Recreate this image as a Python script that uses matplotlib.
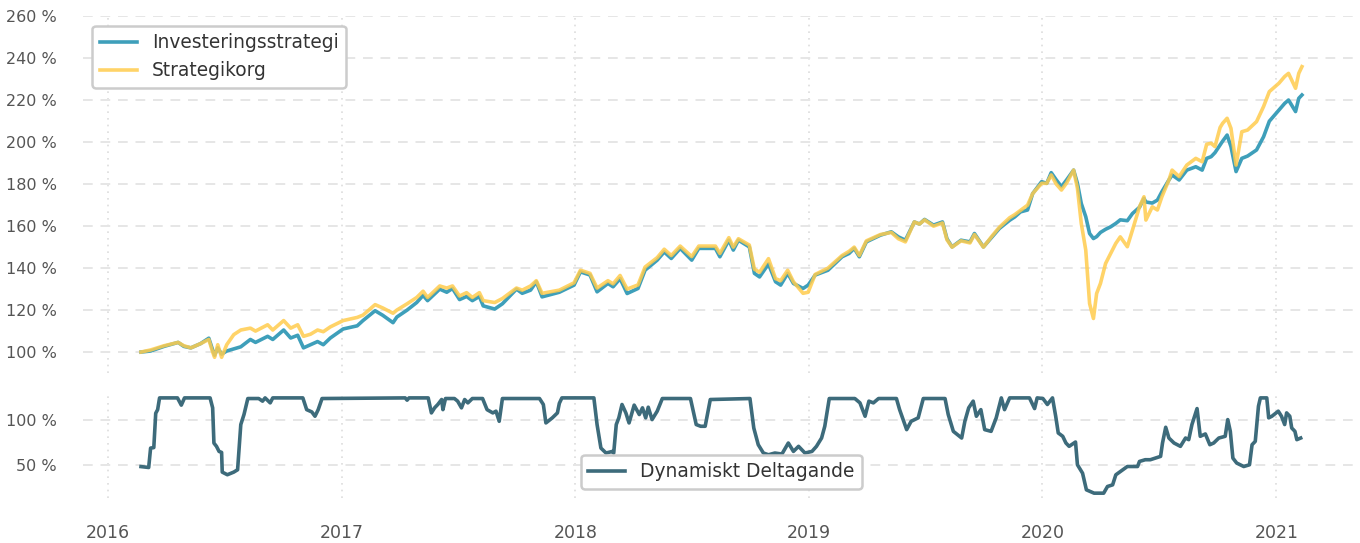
import matplotlib
matplotlib.use('Agg')
import matplotlib.pyplot as plt
import matplotlib.dates as mdates
from matplotlib.ticker import FuncFormatter, MultipleLocator
import pandas as pd

# top panel: index development in percent
top_dates = ['2016-02-22', '2016-03-08', '2016-03-29', '2016-04-20', '2016-04-29', '2016-05-10',
             '2016-05-25', '2016-06-07', '2016-06-13', '2016-06-16', '2016-06-21', '2016-06-27',
             '2016-07-05', '2016-07-16', '2016-07-27', '2016-08-11', '2016-08-19', '2016-09-07',
             '2016-09-15', '2016-10-02', '2016-10-13', '2016-10-24', '2016-11-02', '2016-11-13',
             '2016-11-24', '2016-12-03', '2016-12-14', '2017-01-03', '2017-01-25', '2017-02-03',
             '2017-02-22', '2017-03-06', '2017-03-22', '2017-03-28', '2017-04-13', '2017-04-28',
             '2017-05-08', '2017-05-15', '2017-06-03', '2017-06-14', '2017-06-23', '2017-07-04',
             '2017-07-15', '2017-07-24', '2017-08-04', '2017-08-10', '2017-08-28', '2017-09-09',
             '2017-10-01', '2017-10-10', '2017-10-23', '2017-11-01', '2017-11-10', '2017-12-07',
             '2017-12-30', '2018-01-09', '2018-01-24', '2018-02-04', '2018-02-21', '2018-03-01',
             '2018-03-12', '2018-03-23', '2018-04-09', '2018-04-20', '2018-05-09', '2018-05-20',
             '2018-05-31', '2018-06-14', '2018-07-02', '2018-07-13', '2018-08-08', '2018-08-15',
             '2018-08-29', '2018-09-05', '2018-09-13', '2018-09-30', '2018-10-08', '2018-10-16',
             '2018-10-30', '2018-11-10', '2018-11-18', '2018-11-29', '2018-12-08', '2018-12-23',
             '2018-12-31', '2019-01-11', '2019-01-31', '2019-02-22', '2019-03-05', '2019-03-13',
             '2019-03-21', '2019-04-01', '2019-04-23', '2019-05-10', '2019-05-21', '2019-06-01',
             '2019-06-15', '2019-06-23', '2019-07-01', '2019-07-15', '2019-07-29', '2019-08-05',
             '2019-08-13', '2019-08-27', '2019-09-10', '2019-09-17', '2019-10-01', '2019-10-15',
             '2019-10-26', '2019-11-11', '2019-11-19', '2019-11-28', '2019-12-09', '2019-12-17',
             '2019-12-31', '2020-01-08', '2020-01-15', '2020-01-23', '2020-01-31', '2020-02-08',
             '2020-02-19', '2020-02-25', '2020-03-02', '2020-03-09', '2020-03-15', '2020-03-21',
             '2020-03-26', '2020-04-01', '2020-04-09', '2020-04-17', '2020-04-25', '2020-05-02',
             '2020-05-13', '2020-05-21', '2020-06-01', '2020-06-08', '2020-06-11', '2020-06-21',
             '2020-06-29', '2020-07-06', '2020-07-17', '2020-07-22', '2020-08-02', '2020-08-14',
             '2020-08-28', '2020-09-07', '2020-09-14', '2020-09-21', '2020-09-27', '2020-10-05',
             '2020-10-09', '2020-10-16', '2020-10-22', '2020-10-30', '2020-11-08', '2020-11-17',
             '2020-12-01', '2020-12-12', '2020-12-21', '2021-01-05', '2021-01-14', '2021-01-20',
             '2021-01-31', '2021-02-05', '2021-02-10']

investeringsstrategi = [100, 100.5, 102.7, 104.6, 102.7, 102, 104, 106.6, 101, 98.5, 102, 99,
                        100.5, 101.5, 102.5, 106, 104.6, 107.5, 106, 110.5, 106.7, 108, 102, 103.5,
                        105, 103.5, 106.7, 111, 112.5, 115, 119.7, 117.5, 114, 116.7, 120, 123.6,
                        127, 124.5, 130, 128.5, 130.3, 125, 126.5, 124.5, 126.5, 122, 120.5, 123,
                        130, 128, 129.5, 133.5, 126.3, 128.5, 131.9, 138.2, 136.7, 128.7, 132.7, 131.1,
                        135, 127.9, 130.3, 139, 143.8, 147.7, 144.6, 149.4, 143.8, 149.4, 149.4, 145.4,
                        153.3, 148.6, 153.3, 150.1, 137.5, 135.8, 142, 133.5, 131.9, 137.5, 132.7, 130.3,
                        131.9, 136.7, 139, 145.4, 147, 149.4, 145.4, 152.5, 155.7, 157.3, 154.9, 153.3,
                        162, 161, 163.2, 160.5, 162, 154, 150.1, 153.3, 152.5, 156.5, 150.1, 155,
                        158.9, 162.8, 164.4, 166.8, 167.7, 175.5, 181.2, 180.4, 185.5, 182, 178.8, 182,
                        186.7, 180.4, 170.8, 164.5, 156.5, 154.1, 155, 157, 158.5, 159.7, 161.3, 163,
                        162.6, 166, 169, 173.2, 171.5, 171, 172.4, 176.4, 182, 184.4, 182, 186.7,
                        188.3, 186.7, 192.3, 193.1, 195, 198.7, 200.5, 203.4, 197.9, 186, 192.3, 193.4,
                        196.3, 202.6, 210, 215.3, 218.5, 220.1, 214.6, 220.9, 222.5]

strategikorg = [100, 101, 103, 104.6, 103, 102, 104, 106, 100, 97.5, 103.5, 97.5,
                103.5, 108.3, 110.5, 111.4, 110, 113, 110.5, 115, 111.4, 113, 107.5, 108.5,
                110.5, 109.7, 112, 115, 116.5, 117.6, 122.6, 121, 118.5, 120, 123, 126,
                129, 126, 131.5, 130.5, 131.5, 126.7, 128.3, 126, 128.3, 124.5, 123.6, 125.5,
                130.5, 129.5, 131.5, 134, 128, 129.5, 133, 139, 137.5, 130.5, 134, 132.5,
                136.5, 130, 132, 140.5, 145, 149, 146, 150.5, 145.5, 150.5, 150.5, 147,
                154.5, 150, 154, 151, 139.5, 138, 144.5, 135, 134, 139, 133.5, 128,
                128.5, 137, 140, 146, 148, 150, 146, 153, 156, 157, 154, 152.5,
                162, 161, 163, 160, 161.5, 153.5, 150, 153, 152, 156, 150, 155.5,
                159.5, 164, 165.5, 167.5, 170, 175.5, 180.4, 180.4, 184.4, 180, 177.2, 180.5,
                186.7, 178, 161.3, 148.6, 123.1, 116, 127.9, 132.7, 142.2, 147, 151.8, 154.9,
                150.2, 158.1, 169.2, 174, 162.9, 169.2, 167.7, 174, 182, 186.7, 183.6, 189.1,
                192.3, 190.7, 199, 199.5, 197.9, 207, 209, 211.4, 206.6, 189.1, 205, 205.8,
                209.8, 217, 224.1, 228.1, 231.3, 232.8, 225.7, 232.8, 236]

# bottom panel: dynamic participation in percent
delta_dates = ['2016-02-22', '2016-03-05', '2016-03-08', '2016-03-13', '2016-03-16', '2016-03-19',
               '2016-03-22', '2016-04-19', '2016-04-25', '2016-04-30', '2016-06-09', '2016-06-13',
               '2016-06-15', '2016-06-19', '2016-06-23', '2016-06-27', '2016-06-28', '2016-07-06',
               '2016-07-16', '2016-07-22', '2016-07-27', '2016-08-01', '2016-08-07', '2016-08-24',
               '2016-08-30', '2016-09-03', '2016-09-11', '2016-09-15', '2016-11-01', '2016-11-07',
               '2016-11-15', '2016-11-20', '2016-11-25', '2016-12-01', '2017-04-10', '2017-04-13',
               '2017-04-16', '2017-05-16', '2017-05-21', '2017-05-26', '2017-05-31', '2017-06-06',
               '2017-06-08', '2017-06-12', '2017-06-26', '2017-07-01', '2017-07-07', '2017-07-12',
               '2017-07-17', '2017-07-24', '2017-08-09', '2017-08-16', '2017-08-25', '2017-08-30',
               '2017-09-04', '2017-09-09', '2017-11-06', '2017-11-12', '2017-11-16', '2017-11-26',
               '2017-12-04', '2017-12-07', '2017-12-11', '2018-01-30', '2018-02-04', '2018-02-10',
               '2018-02-18', '2018-02-28', '2018-03-02', '2018-03-06', '2018-03-10', '2018-03-15',
               '2018-03-21', '2018-03-26', '2018-04-03', '2018-04-11', '2018-04-16', '2018-04-21',
               '2018-04-25', '2018-05-01', '2018-05-09', '2018-05-17', '2018-06-30', '2018-07-09',
               '2018-07-16', '2018-07-23', '2018-07-31', '2018-10-01', '2018-10-07', '2018-10-14',
               '2018-10-22', '2018-10-30', '2018-11-09', '2018-11-20', '2018-11-30', '2018-12-08',
               '2018-12-16', '2018-12-26', '2019-01-06', '2019-01-13', '2019-01-21', '2019-01-26',
               '2019-02-02', '2019-03-14', '2019-03-22', '2019-03-30', '2019-04-05', '2019-04-12',
               '2019-04-20', '2019-05-18', '2019-05-23', '2019-06-03', '2019-06-10', '2019-06-21',
               '2019-06-29', '2019-08-02', '2019-08-07', '2019-08-15', '2019-08-28', '2019-09-02',
               '2019-09-08', '2019-09-15', '2019-09-20', '2019-09-27', '2019-10-03', '2019-10-13',
               '2019-10-21', '2019-10-29', '2019-11-03', '2019-11-11', '2019-12-12', '2019-12-20',
               '2019-12-24', '2020-01-02', '2020-01-09', '2020-01-17', '2020-01-22', '2020-01-26',
               '2020-02-02', '2020-02-07', '2020-02-12', '2020-02-22', '2020-02-25', '2020-03-04',
               '2020-03-10', '2020-03-22', '2020-04-06', '2020-04-12', '2020-04-20', '2020-04-25',
               '2020-05-06', '2020-05-13', '2020-05-29', '2020-06-01', '2020-06-10', '2020-06-18',
               '2020-06-29', '2020-07-04', '2020-07-07', '2020-07-12', '2020-07-17', '2020-07-25',
               '2020-08-04', '2020-08-12', '2020-08-17', '2020-08-22', '2020-08-30', '2020-09-04',
               '2020-09-12', '2020-09-19', '2020-09-25', '2020-10-03', '2020-10-13', '2020-10-17',
               '2020-10-21', '2020-10-25', '2020-10-31', '2020-11-11', '2020-11-20', '2020-11-24',
               '2020-11-29', '2020-12-04', '2020-12-07', '2020-12-17', '2020-12-20', '2020-12-25',
               '2021-01-04', '2021-01-09', '2021-01-14', '2021-01-17', '2021-01-22', '2021-01-25',
               '2021-01-30', '2021-02-02', '2021-02-08']

deltagande = [48, 47, 68.5, 69, 107, 111,
              124, 124, 116, 124, 124, 113,
              74, 70.4, 64.8, 63.7, 41.9, 39,
              41.9, 44.5, 94.5, 105.6, 123.3, 123.3,
              120.4, 124, 118.5, 124, 124, 111,
              108.5, 103.7, 111, 123.3, 124, 121.5,
              124, 124, 107.4, 113, 116.7, 122.2,
              111, 123.3, 123.3, 120.4, 113, 122.2,
              118.5, 123.3, 123.3, 111, 107.4, 109.3,
              98.1, 123.3, 123.3, 116.7, 96.3, 101.9,
              107.4, 118, 124, 124, 94.5, 68.5,
              63, 64.8, 63, 94.5, 101.9, 116.7,
              107.4, 96.3, 116, 105.6, 113, 101.9,
              113.7, 100, 109.3, 123.3, 123.3, 94.5,
              92.6, 92.6, 122.2, 123.3, 90.7, 72.2,
              63, 61.1, 63, 61.9, 74.1, 64.8,
              70.4, 63, 64.8, 70.4, 79.6, 92.6,
              123.3, 123.3, 118.5, 103.7, 120.4, 118.5,
              123.3, 123.3, 111, 88.9, 98.1, 101.9,
              123.3, 123.3, 105.6, 87, 79.6, 98.1,
              113, 120.4, 103.7, 111, 88.9, 87,
              101.9, 124, 111, 124, 124, 112.2,
              124, 123.3, 116.7, 124, 103.7, 85.2,
              81.5, 74.1, 70.4, 75.2, 50, 40.7,
              22.3, 18.6, 18.6, 26, 27.8, 38.9,
              44.5, 48.1, 48.1, 53.7, 55.6, 55.6,
              58.2, 59.3, 74.1, 91.5, 79.6, 74.1,
              70.4, 79.6, 77.8, 94.5, 112.2, 81.5,
              84.1, 72.2, 74.1, 79.6, 81.5, 100,
              87, 57.4, 51.9, 48.1, 50, 72.2,
              75.9, 114.8, 124, 124, 101.9, 103.7,
              109.3, 103.7, 94.5, 107.4, 103.7, 90.7,
              87, 77.8, 79.6]

BLUE = '#3e9fba'
YELLOW = '#ffcc4d'
DARK = '#3d6b7b'
GRID = '#e6e6e6'
TICK = '#555555'

t_top = pd.to_datetime(top_dates)
t_delta = pd.to_datetime(delta_dates)

fig = plt.figure(figsize=(13.6, 5.43), dpi=100)
ax1 = fig.add_axes([0.061, 0.313, 0.939, 0.657])
ax2 = fig.add_axes([0.061, 0.083, 0.939, 0.193], sharex=ax1)

ax1.plot(t_top, investeringsstrategi, color=BLUE, lw=2.6, label='Investeringsstrategi')
ax1.plot(t_top, strategikorg, color=YELLOW, lw=2.6, alpha=0.85, label='Strategikorg')
ax2.plot(t_delta, deltagande, color=DARK, lw=2.6, label='Dynamiskt Deltagande')

pct = FuncFormatter(lambda v, p: f'{v:.0f} %')
ax1.set_ylim(90, 260)
ax1.yaxis.set_major_locator(MultipleLocator(20))
ax1.yaxis.set_major_formatter(pct)
ax2.set_yticks([50, 100])
ax2.yaxis.set_major_formatter(pct)

ax2.xaxis.set_major_locator(mdates.YearLocator())
ax2.xaxis.set_major_formatter(mdates.DateFormatter('%Y'))

for ax in (ax1, ax2):
    for s in ax.spines.values():
        s.set_visible(False)
    ax.grid(axis='y', color=GRID, ls=(0, (5, 4)), lw=1.4)
    ax.grid(axis='x', color='#dddddd', ls=(0, (1, 3)), lw=1.2)
    ax.set_axisbelow(True)
    ax.tick_params(length=0, pad=19, colors=TICK, labelsize=11.5)
ax2.tick_params(axis='x', labelsize=12.5)
ax1.tick_params(axis='x', labelbottom=False)

for ax, loc in ((ax1, 'upper left'), (ax2, 'lower center')):
    leg = ax.legend(loc=loc, fontsize=13.4, framealpha=1, handlelength=2.0)
    leg.get_frame().set_edgecolor('#cccccc')
    leg.get_frame().set_linewidth(1.8)
    for txt in leg.get_texts():
        txt.set_color('#333333')

fig.savefig('out.png', dpi=100)
